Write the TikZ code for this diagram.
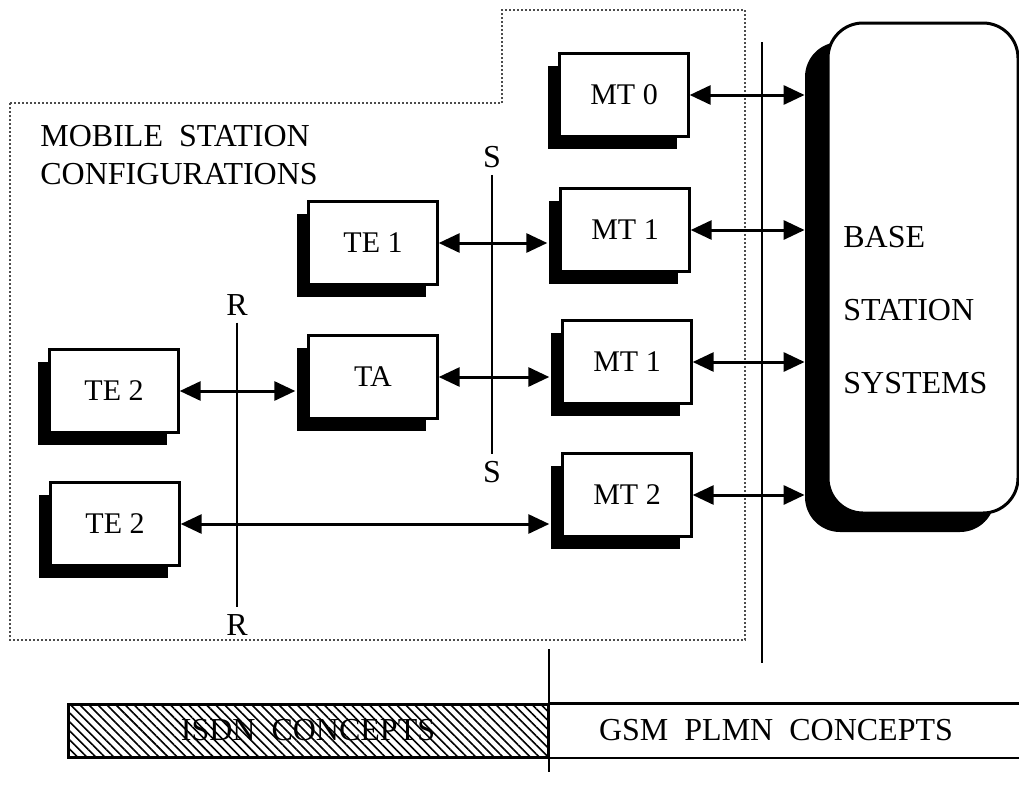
\documentclass[tikz,border=0pt]{standalone}
\usepackage{fontspec}
\setmainfont{Liberation Serif}
\usetikzlibrary{arrows.meta, positioning, calc, shadows, patterns.meta}

\begin{document}
\begin{tikzpicture}[x=0.5pt, y=-0.5pt,
  txt/.style={font=\fontsize{16}{19}\selectfont},
  unit/.style={font=\fontsize{15}{18}\selectfont, draw, line width=1.2pt, fill=white, minimum width=64.5pt, minimum height=41.5pt,
    drop shadow={shadow xshift=-6pt, shadow yshift=-6pt, opacity=1, fill=black}},
  link/.style={line width=1.5pt, {Triangle[length=10.5pt,width=9.5pt]}-{Triangle[length=10.5pt,width=9.5pt]}},
  refline/.style={line width=1pt},
  outline/.style={densely dotted, line width=1pt, black!70}]
  \useasboundingbox (0,0) rectangle (1019,788);

  \draw[outline] (10,103) -| (502,10) -| (745,640) -- (10,640) -- cycle;
  \node[txt, anchor=west, align=left, inner sep=0pt] (title) at (40,155) {MOBILE\ \ STATION\\CONFIGURATIONS};

  \node[unit] (mt0) at (624,95) {MT 0};
  \node[unit] (mt1) at (625,230) {MT 1};
  \node[unit] (mt1b) at (627,362) {MT 1};
  \node[unit] (mt2) at (627,495) {MT 2};
  \node[unit] (te1) at (373,243) {TE 1};
  \node[unit] (ta) at (373,377) {TA};
  \node[unit] (te2a) at (114,391) {TE 2};
  \node[unit] (te2b) at (115,524) {TE 2};

  \node[txt] (rtop) at (237,305) {R};
  \node[txt] (rbot) at (237,625) {R};
  \node[txt] (stop) at (492,157) {S};
  \node[txt] (sbot) at (492,472) {S};
  \draw[refline] (rtop) -- (rbot);
  \draw[refline] (stop) -- (sbot);
  \draw[refline] (762,42) -- (762,663);

  \node[fill=black, rounded corners=17.5pt, minimum width=95pt, minimum height=245pt] (bsback) at (900,287) {};
  \node[draw, fill=white, line width=1.5pt, rounded corners=17.5pt, minimum width=95pt, minimum height=245pt] (bss) at (923,268) {};
  \node[txt, anchor=west, align=left, inner sep=0pt, font=\fontsize{16}{36.5}\selectfont] (bstext) at (843,310) {BASE\\STATION\\SYSTEMS};

  \draw[link] (mt0.east) -- (mt0.east -| bsback.west);
  \draw[link] (mt1.east) -- (mt1.east -| bsback.west);
  \draw[link] (mt1b.east) -- (mt1b.east -| bsback.west);
  \draw[link] (mt2.east) -- (mt2.east -| bsback.west);
  \draw[link] (te1.east) -- ($(te1.east -| mt1.west)+(-12,0)$);
  \draw[link] (ta.east) -- ($(ta.east -| mt1b.west)+(-12,0)$);
  \draw[link] (te2a.east) -- ($(te2a.east -| ta.west)+(-12,0)$);
  \draw[link] (te2b.east) -- ($(te2b.east -| mt2.west)+(-12,0)$);

  \node[txt, draw, line width=1.5pt, minimum width=240pt, minimum height=26.5pt,
    pattern={Lines[angle=-45, distance=3.2pt, line width=0.8pt]}] (isdn) at (308,730.5) {ISDN\ \ CONCEPTS};
  \node[txt] (gsm) at (776,730) {GSM\ \ PLMN\ \ CONCEPTS};
  \coordinate (edge) at (1030,730);
  \draw[line width=1.3pt] (isdn.north east) -- (isdn.north east -| edge);
  \draw[line width=1.3pt] (isdn.south east) -- (isdn.south east -| edge);
  \draw[refline] ($(isdn.north east)+(0,-54)$) -- ($(isdn.south east)+(0,14)$);
\end{tikzpicture}
\end{document}
